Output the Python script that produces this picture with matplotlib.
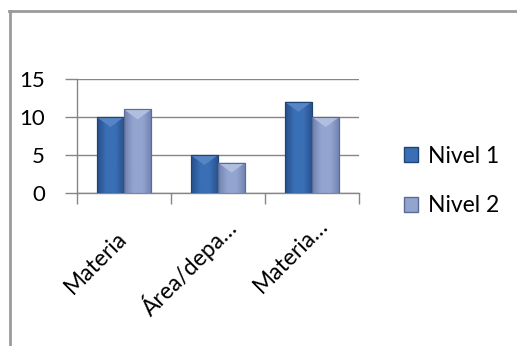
import numpy as np
import matplotlib.pyplot as plt
import matplotlib.transforms as mtransforms
from matplotlib.patches import Polygon, Patch
from matplotlib.lines import Line2D
from matplotlib.colors import LinearSegmentedColormap

plt.rcParams['font.family'] = ['Lato', 'DejaVu Sans']

categories = ['Materia', 'Área/depa…', 'Materia…']
series = ['Nivel 1', 'Nivel 2']
nivel1 = [10, 5, 12]
nivel2 = [11, 4, 10]
yticks = [0, 5, 10, 15]

# base / centre / bevel / edge shades for each series
shades = {
    'Nivel 1': ('#264f8a', '#3a6fb5', '#5a88c8', '#1f4374'),
    'Nivel 2': ('#6e81ae', '#93a5cf', '#b4c3e3', '#5a6c96'),
}

# start of each rotated label, pixels from the tick (right, down)
label_shift = [(-51, 102), (-67, 124), (-50, 101)]

W, H = 517, 346
fig = plt.figure(figsize=(W / 100, H / 100), dpi=100)
ax = fig.add_axes([77 / W, 1 - 193 / H, 282 / W, 114 / H])

x = np.arange(len(categories))
bw = 0.29
values = [nivel1, nivel2]
offsets = [-bw / 2, bw / 2]
px_per_unit = 114 / 15

for name, vals, off in zip(series, values, offsets):
    dark, mid, light, edge = shades[name]
    bars = ax.bar(x + off, vals, bw, color=dark, edgecolor=edge, linewidth=0.8, zorder=3)
    cmap = LinearSegmentedColormap.from_list(name, [dark, mid, mid, dark])
    grad = np.linspace(0, 1, 64).reshape(1, -1)
    for rect in bars:
        x0, w, h = rect.get_x(), rect.get_width(), rect.get_height()
        im = ax.imshow(grad, cmap=cmap, extent=[x0, x0 + w, 0, h],
                       aspect='auto', zorder=3.1)
        im.set_clip_path(rect)
        # bevelled top
        d = 10 / px_per_unit
        ax.add_patch(Polygon([(x0, h), (x0 + w, h), (x0 + w / 2, h - d)],
                             closed=True, facecolor=light, edgecolor='none',
                             alpha=0.9, zorder=3.2))
        ax.add_patch(Polygon([(x0, 0), (x0, h), (x0 + w, h), (x0 + w, 0)],
                             closed=True, fill=False, edgecolor=edge,
                             linewidth=0.8, zorder=3.3))

ax.set_xlim(-0.5, len(categories) - 0.5)
ax.set_ylim(0, 15)

ax.set_yticks(yticks)
ax.set_yticklabels([str(v) for v in yticks], fontsize=16)
ax.set_xticks(np.arange(len(categories) + 1) - 0.5)
ax.set_xticklabels([])
ax.set_xticks(x, minor=True)
ax.set_xticklabels(categories, minor=True, rotation=45, ha='left', va='baseline',
                   rotation_mode='anchor', fontsize=16.5)
ax.tick_params(axis='x', which='minor', length=0, pad=0)
ax.tick_params(axis='x', which='major', length=8, color='#868686', width=1)
ax.tick_params(axis='y', length=9, color='#868686', width=1, pad=14)

for lab, (dx, dy) in zip(ax.get_xticklabels(minor=True), label_shift):
    shift = mtransforms.ScaledTranslation(dx / 100, -dy / 100, fig.dpi_scale_trans)
    lab.set_transform(lab.get_transform() + shift)

ax.grid(axis='y', color='#868686', linewidth=1, zorder=0)
for s in ['top', 'right']:
    ax.spines[s].set_visible(False)
for s in ['left', 'bottom']:
    ax.spines[s].set_color('#868686')
    ax.spines[s].set_linewidth(1)

handles = [Patch(facecolor=shades[s][1], edgecolor=shades[s][3]) for s in series]
fig.legend(handles, series, loc='center left', bbox_to_anchor=(395 / W, 1 - 181 / H),
           frameon=False, fontsize=16.5, handlelength=0.6, handleheight=0.6,
           handletextpad=0.45, labelspacing=1.25, borderaxespad=0)

# outer frame (top and left edges)
fig.add_artist(Line2D([9 / W, 1], [1 - 10.5 / H, 1 - 10.5 / H], color='#9a9a9a', linewidth=2))
fig.add_artist(Line2D([9.5 / W, 9.5 / W], [0, 1 - 10.5 / H], color='#9a9a9a', linewidth=2))

fig.savefig('out.png', dpi=100)
